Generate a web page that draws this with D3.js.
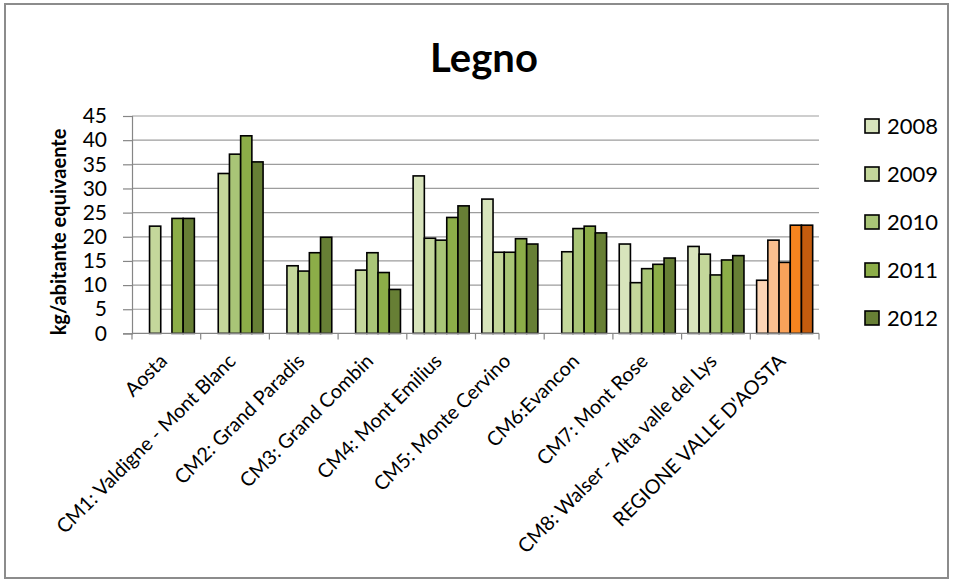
<!DOCTYPE html>
<html>
<head>
<meta charset="utf-8">
<script src="https://cdn.jsdelivr.net/npm/d3@7"></script>
<style>
  body { margin: 0; background: #fff; }
  text { font-family: Lato, "Open Sans", sans-serif; fill: #000; }
</style>
</head>
<body>
<div id="chart"></div>
<script>
// data
var categories = ["Aosta", "CM1: Valdigne - Mont Blanc", "CM2: Grand Paradis", "CM3: Grand Combin",
  "CM4: Mont Emilius", "CM5: Monte Cervino", "CM6:Evancon", "CM7: Mont Rose",
  "CM8: Walser - Alta valle del Lys", "REGIONE VALLE D'AOSTA"];
var years = ["2008", "2009", "2010", "2011", "2012"];
var v2008 = [null, null, null, null, 32.6, 27.8, null, 18.5, 18.0, 11.0];
var v2009 = [22.2, 33.1, 14.0, 13.1, 19.7, 16.8, 16.9, 10.5, 16.4, 19.3];
var v2010 = [null, 37.1, 12.9, 16.7, 19.3, 16.8, 21.7, 13.4, 12.1, 14.7];
var v2011 = [23.8, 40.9, 16.7, 12.6, 24.0, 19.6, 22.2, 14.3, 15.2, 22.4];
var v2012 = [23.8, 35.5, 19.9, 9.1, 26.4, 18.5, 20.8, 15.6, 16.1, 22.4];
var yTicks = [0, 5, 10, 15, 20, 25, 30, 35, 40, 45];

var greens  = ["#d8e4bc", "#c4d79b", "#a9c577", "#8cad48", "#677f35"];
var oranges = ["#fcd5b5", "#fabf8f", "#f9a25a", "#f5841f", "#c45c0e"];
var series = [v2008, v2009, v2010, v2011, v2012];

var W = 954, H = 581;
var svg = d3.select("#chart").append("svg")
    .attr("width", W)
    .attr("height", H);

// chart frame
svg.append("rect")
    .attr("x", 5).attr("y", 4)
    .attr("width", 943).attr("height", 574)
    .attr("fill", "#fff")
    .attr("stroke", "#8c8c8c")
    .attr("stroke-width", 2);

// title
svg.append("text")
    .attr("x", 484).attr("y", 72)
    .attr("text-anchor", "middle")
    .attr("font-size", 40)
    .attr("font-weight", "bold")
    .text("Legno");

var x0 = d3.scaleBand().domain(categories).range([132, 819]);
var x1 = d3.scaleBand().domain(years).range([0, x0.bandwidth()]).paddingOuter(0.565);
var y = d3.scaleLinear().domain([0, 45]).range([333.4, 116]);

// gridlines
svg.append("g").selectAll("line")
    .data(yTicks.slice(1))
    .enter().append("line")
    .attr("x1", 132).attr("x2", 819)
    .attr("y1", function(d) { return y(d); })
    .attr("y2", function(d) { return y(d); })
    .attr("stroke", "#9d9d9d")
    .attr("stroke-width", 1.2);

// Y axis
var yAxis = svg.append("g")
    .attr("transform", "translate(132,0)")
    .call(d3.axisLeft(y).tickValues(yTicks).tickSize(9).tickPadding(16));
yAxis.select(".domain").attr("stroke", "#868686").attr("stroke-width", 1.2);
yAxis.selectAll(".tick line").attr("stroke", "#868686").attr("stroke-width", 1.2);
yAxis.selectAll("text").attr("font-size", 21).attr("font-family", "Lato").attr("fill", "#000");

// bars
var groups = svg.append("g").selectAll("g")
    .data(categories)
    .enter().append("g")
    .attr("transform", function(d) { return "translate(" + x0(d) + ",0)"; });

groups.selectAll("rect")
    .data(function(d, i) {
      return years.map(function(yr, k) {
        return { year: yr, k: k, value: series[k][i], cat: i };
      }).filter(function(e) { return e.value != null; });
    })
    .enter().append("rect")
    .attr("x", function(d) { return x1(d.year); })
    .attr("width", x1.bandwidth())
    .attr("y", function(d) { return y(d.value); })
    .attr("height", function(d) { return y(0) - y(d.value); })
    .attr("fill", function(d) { return d.cat === 9 ? oranges[d.k] : greens[d.k]; })
    .attr("stroke", "#000")
    .attr("stroke-width", 1.6);

// X axis
var xAxis = svg.append("g")
    .attr("transform", "translate(0," + y(0) + ")");
xAxis.append("line")
    .attr("x1", 132).attr("x2", 819)
    .attr("stroke", "#868686").attr("stroke-width", 1.2);
xAxis.selectAll(".tk")
    .data(categories.concat([null]))
    .enter().append("line")
    .attr("class", "tk")
    .attr("x1", function(d, i) { return 132 + i * x0.step(); })
    .attr("x2", function(d, i) { return 132 + i * x0.step(); })
    .attr("y1", 0).attr("y2", 6)
    .attr("stroke", "#868686").attr("stroke-width", 1.2);
xAxis.selectAll(".lbl")
    .data(categories)
    .enter().append("text")
    .attr("class", "lbl")
    .attr("text-anchor", "end")
    .attr("font-size", 19.8)
    .attr("transform", function(d) {
      return "translate(" + (x0(d) + x0.bandwidth() / 2 + 2) + ",29) rotate(-45)";
    })
    .text(function(d) { return d; });

// Y axis title
svg.append("text")
    .attr("transform", "translate(66,232) rotate(-90)")
    .attr("text-anchor", "middle")
    .attr("font-size", 20)
    .attr("font-weight", "bold")
    .text("kg/abitante equivaente");

// legend
var legend = svg.append("g").selectAll("g")
    .data(years)
    .enter().append("g")
    .attr("transform", function(d, i) { return "translate(865," + (126 + i * 48) + ")"; });
legend.append("rect")
    .attr("x", 0).attr("y", -7)
    .attr("width", 14).attr("height", 14)
    .attr("fill", function(d, i) { return greens[i]; })
    .attr("stroke", "#000")
    .attr("stroke-width", 1.6);
legend.append("text")
    .attr("x", 22).attr("y", 0)
    .attr("dy", "0.36em")
    .attr("font-size", 22)
    .text(function(d) { return d; });
</script>
</body>
</html>
